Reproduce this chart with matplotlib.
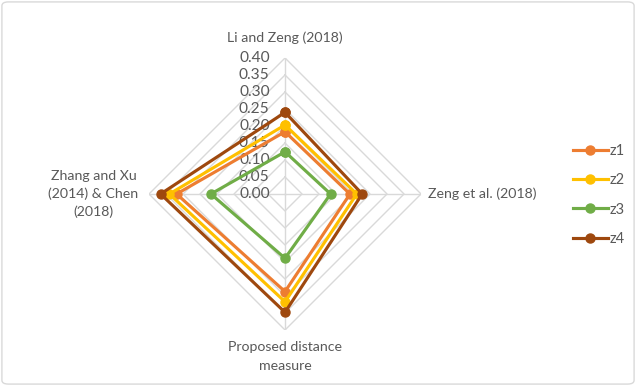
import numpy as np
import matplotlib.pyplot as plt
from matplotlib.patches import FancyBboxPatch

plt.rcParams['font.family'] = ['Lato', 'DejaVu Sans']

# Axes of the radar (clockwise from top)
categories = ["Li and Zeng (2018)", "Zeng et al. (2018)",
              "Proposed distance\nmeasure", "Zhang and Xu\n(2014) & Chen\n(2018)"]
series_names = ["z1", "z2", "z3", "z4"]
z1 = [0.183, 0.191, 0.287, 0.319]
z2 = [0.203, 0.211, 0.317, 0.340]
z3 = [0.124, 0.134, 0.189, 0.218]
z4 = [0.240, 0.227, 0.348, 0.366]
ticks = [0.00, 0.05, 0.10, 0.15, 0.20, 0.25, 0.30, 0.35, 0.40]

colors = ["#ED7D31", "#FFC000", "#70AD47", "#9E480E"]
text_color = "#595959"
grid_color = "#D9D9D9"

fig = plt.figure(figsize=(6.36, 3.86), dpi=100)
ax = fig.add_axes([0.2343, 0.1451, 0.4277, 0.7047], projection="polar")
ax.set_theta_offset(np.pi / 2)
ax.set_theta_direction(-1)
ax.set_ylim(0, 0.40)

n = len(categories)
theta = np.arange(n) * 2 * np.pi / n
theta_closed = np.append(theta, theta[0])

# polygon gridlines and spokes
for t in ticks[1:]:
    ax.plot(theta_closed, [t] * (n + 1), color=grid_color, lw=1.0, zorder=1)
for th in theta:
    ax.plot([th, th], [0, ticks[-1]], color=grid_color, lw=1.0, zorder=1)

ax.grid(False)
ax.spines['polar'].set_visible(False)
ax.set_xticks([])
ax.set_yticks([])
ax.patch.set_alpha(0)

for name, vals, c in zip(series_names, [z1, z2, z3, z4], colors):
    ax.plot(theta_closed, vals + vals[:1], color=c, lw=2.25, marker='o',
            ms=6.5, label=name, zorder=3, clip_on=False)

# radial value labels beside the top spoke
for t in ticks:
    ax.annotate(f"{t:.2f}", xy=(0, t), xytext=(-11, 0), textcoords='offset points',
                ha='right', va='center', fontsize=11.2, color=text_color,
                annotation_clip=False, zorder=2)

# category labels
lab_size = 10.2
ax.annotate(categories[0], xy=(0, 0.40), xytext=(0, 10), textcoords='offset points',
            ha='center', va='bottom', fontsize=lab_size, color=text_color, annotation_clip=False)
ax.annotate(categories[1], xy=(theta[1], 0.40), xytext=(5, 0), textcoords='offset points',
            ha='left', va='center', fontsize=lab_size, color=text_color, annotation_clip=False)
ax.annotate(categories[2], xy=(theta[2], 0.40), xytext=(0, -8), textcoords='offset points',
            ha='center', va='top', fontsize=lab_size, color=text_color, annotation_clip=False,
            multialignment='center', linespacing=1.7)
ax.annotate(categories[3], xy=(theta[3], 0.40), xytext=(-40, 0), textcoords='offset points',
            ha='center', va='center', fontsize=lab_size, color=text_color, annotation_clip=False,
            multialignment='center', linespacing=1.5)

leg = fig.legend(loc='center left', bbox_to_anchor=(0.88, 0.495), frameon=False,
                 fontsize=10.5, handlelength=2.4, labelspacing=1.05, handletextpad=0.15)
for txt in leg.get_texts():
    txt.set_color(text_color)

# chart area border
fig.patches.append(FancyBboxPatch((0.003, 0.005), 0.994, 0.99,
                                  boxstyle="round,pad=0,rounding_size=0.01",
                                  transform=fig.transFigure, fill=False,
                                  edgecolor=grid_color, lw=1.0))

fig.savefig("out.png", dpi=100)
